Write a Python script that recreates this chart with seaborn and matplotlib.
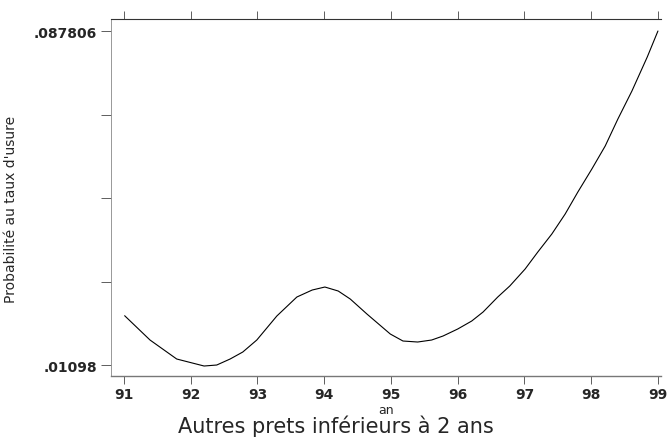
import numpy as np
import pandas as pd
import matplotlib
matplotlib.use('Agg')
import matplotlib.pyplot as plt
import seaborn as sns

# values
an = [91.01, 91.39, 91.79, 92.20, 92.39, 92.59, 92.78, 92.99, 93.29, 93.59,
      93.82, 94.01, 94.21, 94.39, 94.64, 94.99, 95.18, 95.40, 95.61, 95.78,
      96.00, 96.21, 96.38, 96.60, 96.78, 97.01, 97.20, 97.41, 97.61, 97.80,
      98.01, 98.21, 98.40, 98.61, 98.84, 99.00]
proba = [0.02232, 0.01673, 0.01236, 0.01075, 0.01098, 0.01236, 0.01397, 0.01673,
         0.02225, 0.02662, 0.02823, 0.02892, 0.02800, 0.02616, 0.02271, 0.01811,
         0.01650, 0.01627, 0.01673, 0.01765, 0.01926, 0.02110, 0.02317, 0.02662,
         0.02915, 0.03306, 0.03697, 0.04111, 0.04571, 0.05077, 0.05607, 0.06136,
         0.06757, 0.07400, 0.08183, 0.087806]
x_ticks = [91, 92, 93, 94, 95, 96, 97, 98, 99]
y_min, y_max = 0.01098, 0.087806
y_labels = ['.01098', '', '', '', '.087806']

df = pd.DataFrame({'an': an, 'proba': proba})

sns.set_style('white')
plt.rcParams['font.family'] = ['DejaVu Sans']

fig = plt.figure(figsize=(6.71, 4.39), dpi=100)
ax = fig.add_axes([0.1654, 0.1412, 0.8196, 0.8132])
sns.lineplot(data=df, x='an', y='proba', ax=ax, color='black', linewidth=0.8)

step = (y_max - y_min) / 334
ax.set_ylim(y_min - 11 * step, y_max + 12 * step)
ax.set_xlim(91 - 13 / 66.75, 99 + 3 / 66.75)

ax.set_xticks(x_ticks)
ax.set_xticklabels([str(t) for t in x_ticks], fontsize=10, fontweight='bold')
ax.set_yticks(np.linspace(y_min, y_max, 5))
ax.set_yticklabels(y_labels, fontsize=10, fontweight='bold')
ax.tick_params(axis='x', top=True, bottom=True, direction='out', length=6,
               width=0.6, color='#444444', pad=2)
ax.tick_params(axis='y', left=True, direction='out', length=7, width=0.6,
               color='#444444', pad=3)

ax.spines['right'].set_visible(False)
ax.spines['top'].set_color('#333333')
ax.spines['top'].set_linewidth(0.8)
ax.spines['bottom'].set_color('#777777')
ax.spines['bottom'].set_linewidth(1.0)
ax.spines['left'].set_color('#888888')
ax.spines['left'].set_linewidth(0.6)
ax.spines['left'].set_linestyle((0, (3, 1)))

ax.set_xlabel('an', fontsize=9, labelpad=1)
ax.set_ylabel("Probabilité au taux d'usure", fontsize=10)
ax.yaxis.set_label_coords(-0.169, 0.47)
fig.text(0.5, 0.028, 'Autres prets inférieurs à 2 ans', ha='center',
         va='center', fontsize=15)

fig.savefig('out.png', dpi=100)
plt.close()
